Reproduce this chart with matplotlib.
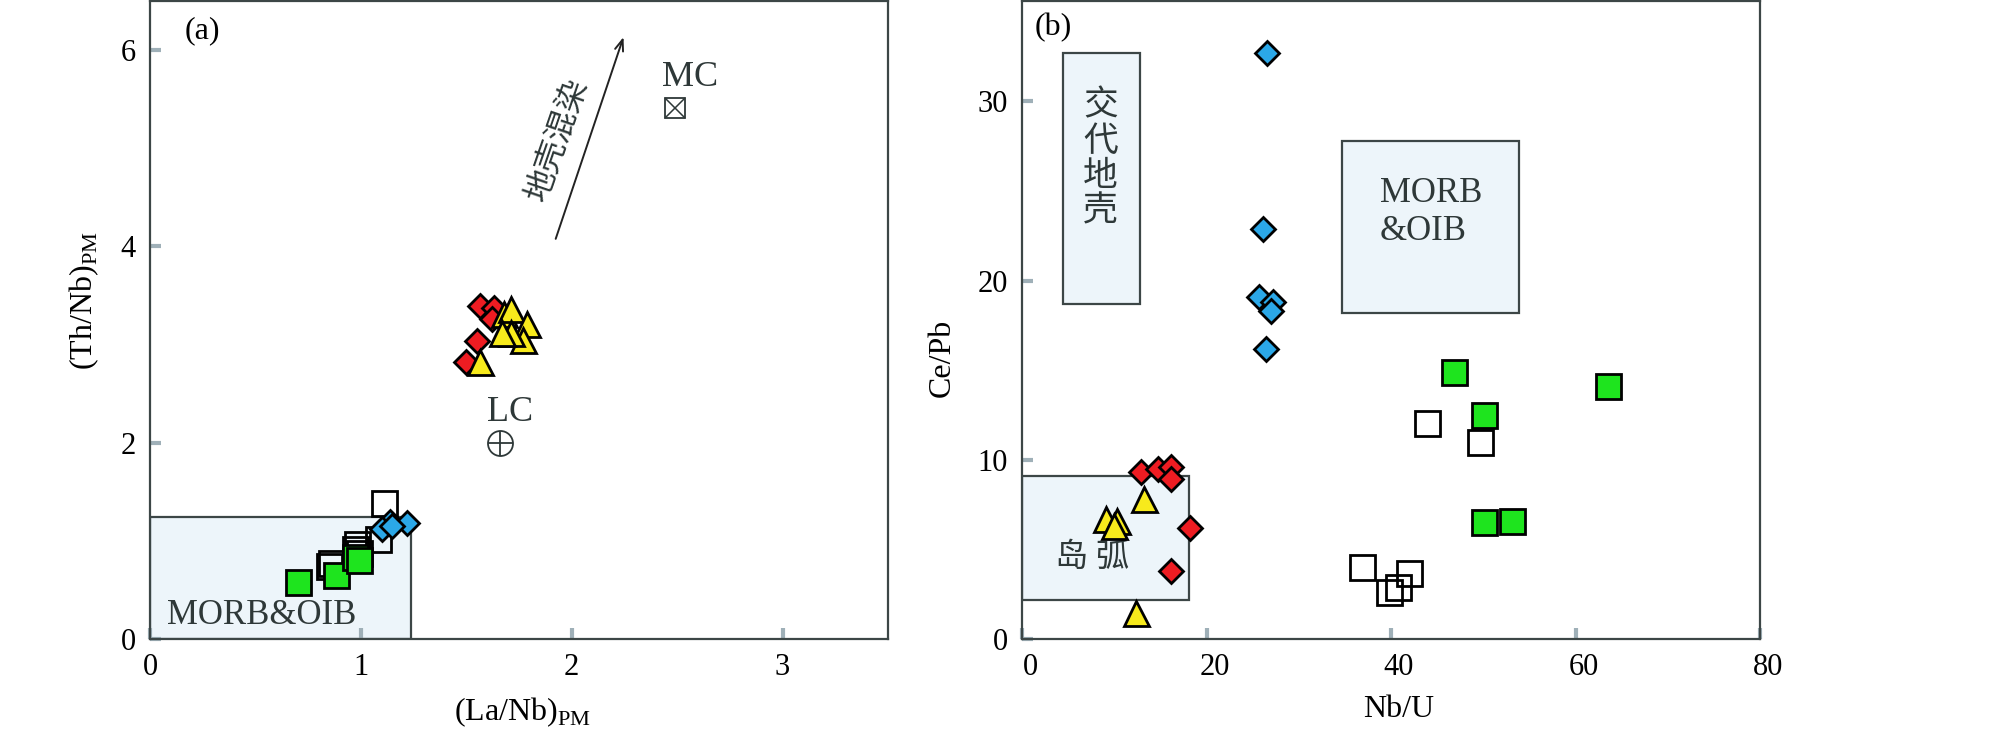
import matplotlib
matplotlib.use('Agg')
import matplotlib.pyplot as plt
import matplotlib.transforms as mtransforms
from matplotlib.patches import Rectangle

plt.rcParams['font.family'] = ['Liberation Serif', 'Noto Sans CJK SC', 'DejaVu Sans']
plt.rcParams['mathtext.fontset'] = 'custom'
plt.rcParams['mathtext.rm'] = 'Liberation Serif'

# ---- panel (a): (La/Nb)PM vs (Th/Nb)PM ----
a_green_x = [0.70, 0.88, 0.97, 0.99]
a_green_y = [0.58, 0.65, 0.84, 0.80]
a_open_x = [1.11, 1.08, 0.98, 0.97, 0.86, 0.85, 0.99]
a_open_y = [1.39, 1.02, 0.97, 0.92, 0.77, 0.74, 0.88]
a_blue_x = [1.14, 1.22, 1.10, 1.15]
a_blue_y = [1.19, 1.18, 1.12, 1.15]
a_red_x = [1.565, 1.63, 1.62, 1.55, 1.50]
a_red_y = [3.39, 3.37, 3.26, 3.04, 2.82]
a_yel_x = [1.68, 1.71, 1.79, 1.77, 1.71, 1.67, 1.565]
a_yel_y = [3.31, 3.36, 3.21, 3.05, 3.12, 3.12, 2.82]
lc_xy = (1.66, 2.0)
mc_xy = (2.49, 5.41)
a_box = (0.0, 0.0, 1.24, 1.24)  # x, y, w, h
arrow_start = (1.92, 4.05)
arrow_end = (2.25, 6.16)

# ---- panel (b): Nb/U vs Ce/Pb ----
b_blue_x = [26.6, 26.1, 25.7, 27.2, 27.0, 26.4]
b_blue_y = [32.7, 22.9, 19.1, 18.8, 18.3, 16.2]
b_green_x = [46.8, 63.5, 50.1, 50.1, 53.1]
b_green_y = [14.9, 14.1, 12.5, 6.5, 6.6]
b_open_x = [43.9, 49.6, 36.8, 41.9, 40.8, 39.8]
b_open_y = [12.05, 11.0, 4.0, 3.7, 2.9, 2.6]
b_red_x = [12.9, 14.7, 16.1, 16.1, 18.2, 16.1]
b_red_y = [9.3, 9.5, 9.6, 8.9, 6.2, 3.8]
b_yel_x = [13.2, 9.07, 10.3, 9.97, 12.4]
b_yel_y = [7.8, 6.7, 6.6, 6.3, 1.47]
b_box_crust = (4.4, 18.7, 8.4, 14.0)
b_box_morb = (34.7, 18.2, 19.2, 9.6)
b_box_arc = (0.0, 2.16, 18.1, 6.96)

c_green = '#1ee41e'
c_blue = '#2ba8e8'
c_red = '#ee1c22'
c_yel = '#f7ea1c'
c_box = '#edf5fa'
c_edge = '#3c4646'
c_tick = '#9fb0b8'
c_txt = '#2e3838'

fig = plt.figure(figsize=(20.08, 7.31), dpi=100)
ax1 = fig.add_axes([0.0747, 0.1259, 0.3675, 0.8727])
ax2 = fig.add_axes([0.5090, 0.1259, 0.3675, 0.8727])

for ax in (ax1, ax2):
    for s in ax.spines.values():
        s.set_color(c_edge)
        s.set_linewidth(1.6)
    ax.tick_params(direction='in', length=8, width=3, color=c_tick,
                   labelsize=22, pad=10, top=False, right=False)

sq = dict(marker='s', ms=18, mec='k', mew=2, ls='none')
dm = dict(marker='D', ms=12.5, mec='k', mew=2, ls='none')
tr = dict(marker='^', ms=18, mec='k', mew=2, ls='none')

# panel a
ax1.add_patch(Rectangle(a_box[:2], a_box[2], a_box[3], fc=c_box, ec=c_edge, lw=1.6, zorder=1))
ax1.plot(a_open_x, a_open_y, mfc='none', zorder=3, **sq)
ax1.plot(a_green_x, a_green_y, mfc=c_green, zorder=4, **sq)
ax1.plot(a_blue_x, a_blue_y, mfc=c_blue, zorder=5, **dm)
ax1.plot(a_red_x, a_red_y, mfc=c_red, zorder=5, **dm)
ax1.plot(a_yel_x, a_yel_y, mfc=c_yel, zorder=6, **tr)
ax1.plot(*lc_xy, marker='o', ms=18, mfc='none', mec=c_txt, mew=1.3, ls='none')
ax1.plot(*lc_xy, marker='+', ms=18, mec=c_txt, mew=1.3, ls='none')
ax1.plot(*mc_xy, marker='s', ms=14, mfc='none', mec=c_txt, mew=1.3, ls='none')
ax1.plot(*mc_xy, marker='x', ms=14, mec=c_txt, mew=1.1, ls='none')
ax1.text(lc_xy[0] + 0.05, lc_xy[1] + 0.31, 'LC', fontsize=26, color=c_txt, ha='center', va='center')
ax1.text(mc_xy[0] + 0.07, mc_xy[1] + 0.31, 'MC', fontsize=26, color=c_txt, ha='center', va='center')
ax1.text(0.53, 0.24, 'MORB&OIB', fontsize=25, color=c_txt, ha='center', va='center')
ax1.text(0.25, 6.2, '(a)', fontsize=23, ha='center', va='center')
ax1.annotate('', xy=arrow_end, xytext=arrow_start,
             arrowprops=dict(arrowstyle='->,head_length=0.8,head_width=0.3', lw=1.4, color='#222'))
ax1.text(1.93, 5.09, '地壳混染', fontsize=23, color=c_txt, rotation=71,
         ha='center', va='center', family=['Noto Sans CJK SC'])
ax1.set_xlim(0, 3.5)
ax1.set_ylim(0, 6.5)
ax1.set_xticks([0, 1, 2, 3])
ax1.set_yticks([0, 2, 4, 6])
ax1.set_xlabel(r'(La/Nb)$_{\rm PM}$', fontsize=23)
ax1.set_ylabel(r'(Th/Nb)$_{\rm PM}$', fontsize=23)
ax1.xaxis.set_label_coords(0.505, -0.088)
ax1.yaxis.set_label_coords(-0.066, 0.53)

# panel b
for b in (b_box_crust, b_box_morb, b_box_arc):
    ax2.add_patch(Rectangle(b[:2], b[2], b[3], fc=c_box, ec=c_edge, lw=1.6, zorder=1))
ax2.plot(b_open_x, b_open_y, mfc='none', zorder=3, **sq)
ax2.plot(b_green_x, b_green_y, mfc=c_green, zorder=4, **sq)
ax2.plot(b_blue_x, b_blue_y, mfc=c_blue, zorder=5, **dm)
ax2.plot(b_red_x, b_red_y, mfc=c_red, zorder=5, **dm)
ax2.plot(b_yel_x, b_yel_y, mfc=c_yel, zorder=6, **tr)
ax2.text(8.5, 26.8, '交\n代\n地\n壳', fontsize=25, color=c_txt, ha='center', va='center',
         linespacing=1.0, family=['Noto Sans CJK SC'])
ax2.text(7.6, 4.55, '岛 弧', fontsize=24, color=c_txt, ha='center', va='center',
         family=['Noto Sans CJK SC'])
ax2.text(38.8, 23.8, 'MORB\n&OIB', fontsize=25, color=c_txt, ha='left', va='center', linespacing=1.2)
ax2.text(3.4, 34.1, '(b)', fontsize=23, ha='center', va='center')
ax2.set_xlim(0, 80)
ax2.set_ylim(0, 35.6)
ax2.set_xticks([0, 20, 40, 60, 80])
ax2.set_yticks([0, 10, 20, 30])
ax2.set_xlabel('Nb/U', fontsize=23)
ax2.set_ylabel('Ce/Pb', fontsize=23)
ax2.xaxis.set_label_coords(0.51, -0.088)
ax2.yaxis.set_label_coords(-0.089, 0.44)
off = mtransforms.ScaledTranslation(8 / 100, 0, fig.dpi_scale_trans)
for lab in ax2.get_xticklabels():
    lab.set_transform(lab.get_transform() + off)

fig.savefig('out.png', dpi=100)
